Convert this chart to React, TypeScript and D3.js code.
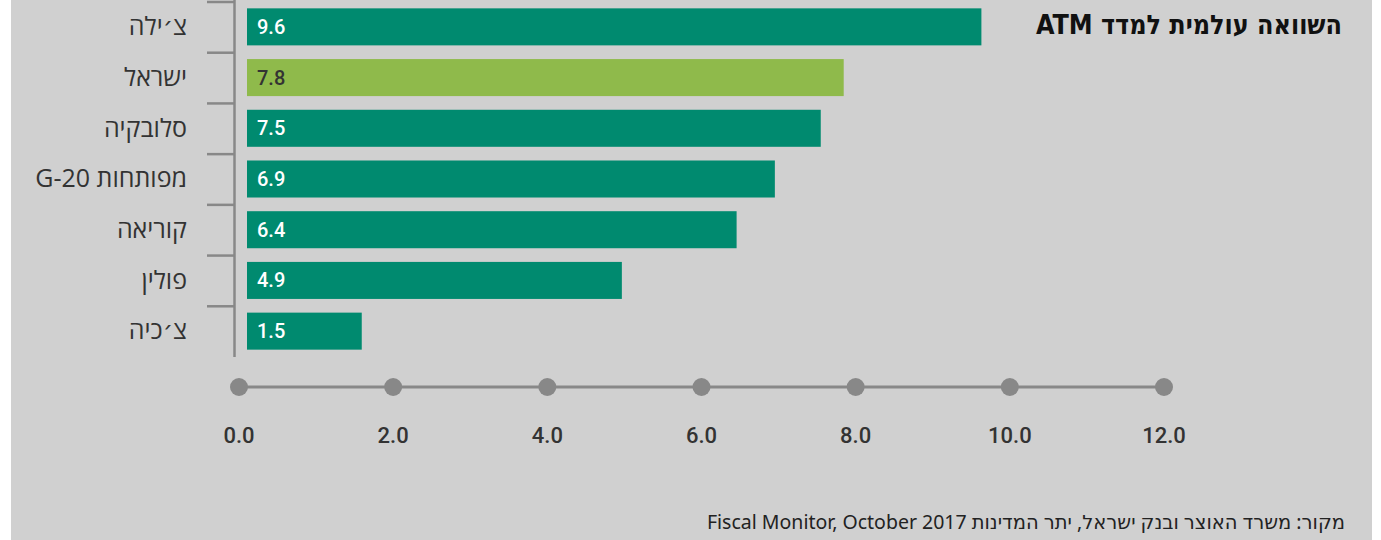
import React from 'react';
import * as d3 from 'd3';

// Data
const countries = ['צ׳ילה', 'ישראל', 'סלובקיה', 'מפותחות G-20', 'קוריאה', 'פולין', 'צ׳כיה'];
const values = [9.6, 7.8, 7.5, 6.9, 6.4, 4.9, 1.5];
const highlighted = ['ישראל'];
const tickValues = [0, 2, 4, 6, 8, 10, 12];

const title = 'השוואה עולמית למדד ATM';
const source = 'מקור: משרד האוצר ובנק ישראל, יתר המדינות Fiscal Monitor, October 2017';

const W = 1381;
const H = 540;
const bg = '#d0d0d0';
const green = '#008a6f';
const lightGreen = '#8fba4b';
const axisGray = '#888888';
const textColor = '#333333';

function App() {
    const y = d3.scaleBand<string>()
        .domain(countries)
        .range([1.5, 356.5])
        .paddingInner(0.27)
        .paddingOuter(0.135);

    // bars and axis dots don't quite line up in the original, hence two scales
    const xBar = d3.scaleLinear().domain([0, 12]).range([247, 1165]);
    const xAxis = d3.scaleLinear().domain([0, 12]).range([239, 1164]);

    const gap = y.step() - y.bandwidth();
    const axisY = 387;

    return (
        <svg width={W} height={H} style={{ position: 'absolute', left: 0, top: 0 }}>
            <rect x={0} y={0} width={W} height={H} fill="#ffffff" />
            <rect x={11} y={0} width={1361} height={H} fill={bg} />

            {/* category axis */}
            <line x1={234.5} x2={234.5} y1={0} y2={357} stroke={axisGray} strokeWidth={2.5} />
            {countries.map((c) => (
                <line key={'t' + c} x1={207} x2={235} y1={(y(c) ?? 0) - gap / 2 + 0.5} y2={(y(c) ?? 0) - gap / 2 + 0.5}
                    stroke={axisGray} strokeWidth={2.5} />
            ))}
            {countries.map((c) => (
                <text key={'l' + c} x={187} y={(y(c) ?? 0) + y.bandwidth() / 2} dy="0.33em"
                    direction="rtl" textAnchor="start" fontFamily="'Open Sans', 'DejaVu Sans', sans-serif"
                    fontSize={25} fill={textColor}>{c}</text>
            ))}

            {/* bars */}
            {countries.map((c, i) => {
                const hl = highlighted.includes(c);
                return (
                    <g key={'b' + c}>
                        <rect x={xBar(0)} y={y(c)} width={xBar(values[i]) - xBar(0)} height={y.bandwidth()}
                            fill={hl ? lightGreen : green} />
                        <text x={xBar(0) + 10} y={(y(c) ?? 0) + y.bandwidth() / 2} dy="0.35em"
                            fontFamily="Roboto, sans-serif" fontWeight={500} fontSize={20}
                            fill={hl ? textColor : '#ffffff'}>{values[i].toFixed(1)}</text>
                    </g>
                );
            })}

            {/* value axis */}
            <line x1={xAxis(0)} x2={xAxis(12)} y1={axisY} y2={axisY} stroke={axisGray} strokeWidth={3} />
            {tickValues.map((t) => (
                <g key={'d' + t}>
                    <circle cx={xAxis(t)} cy={axisY} r={9} fill={axisGray} />
                    <text x={xAxis(t)} y={443} textAnchor="middle" fontFamily="Roboto, sans-serif"
                        fontWeight={500} fontSize={22} fill={textColor}>{t.toFixed(1)}</text>
                </g>
            ))}

            {/* title */}
            <text x={1342} y={34} direction="rtl" textAnchor="start"
                fontFamily="'DejaVu Sans Condensed', 'DejaVu Sans', sans-serif" fontWeight="bold"
                fontSize={27} fill="#111111" textLength={306} lengthAdjust="spacingAndGlyphs">{title}</text>

            {/* source */}
            <text x={1345} y={529} direction="rtl" textAnchor="start"
                fontFamily="'Noto Sans', 'DejaVu Sans', sans-serif" fontSize={19.5} fill="#222222">{source}</text>
        </svg>
    );
}

export default App;
